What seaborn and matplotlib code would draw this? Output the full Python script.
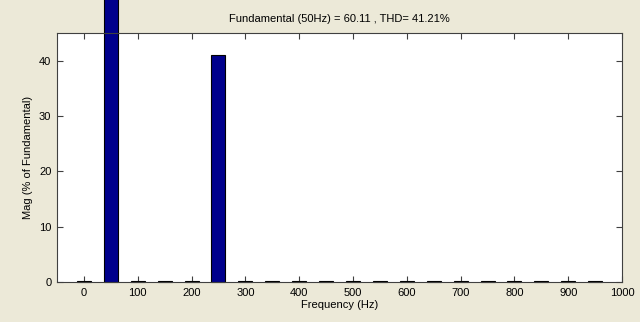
import numpy as np
import pandas as pd
import matplotlib
matplotlib.use('Agg')
import matplotlib.pyplot as plt
import seaborn as sns

# harmonic spectrum
freqs = [0, 50, 100, 150, 200, 250, 300, 350, 400, 450,
         500, 550, 600, 650, 700, 750, 800, 850, 900, 950]
mags = [0.15, 100.0, 0.15, 0.15, 0.15, 41.0, 0.15, 0.15, 0.15, 0.15,
        0.15, 0.15, 0.15, 0.15, 0.15, 0.15, 0.15, 0.15, 0.15, 0.15]
title = 'Fundamental (50Hz) = 60.11 , THD= 41.21%'

df = pd.DataFrame({'Frequency': freqs, 'Mag': mags})

sns.set_style('ticks')
plt.rcParams['font.family'] = ['Liberation Sans', 'DejaVu Sans']
plt.rcParams['text.color'] = 'black'
plt.rcParams['axes.labelcolor'] = 'black'
plt.rcParams['xtick.labelcolor'] = 'black'
plt.rcParams['ytick.labelcolor'] = 'black'

fig = plt.figure(figsize=(6.4, 3.22), dpi=100, facecolor='#ECE9D8')
ax = fig.add_axes([0.089, 0.124, 0.883, 0.774])
ax.set_facecolor('white')

sns.barplot(x='Frequency', y='Mag', data=df, native_scale=True, width=0.52,
            color='#00008C', saturation=1, edgecolor='black', linewidth=0.8,
            ax=ax)
for p in ax.patches:
    p.set_clip_on(False)

ax.set_xlim(-50, 1000)
ax.set_ylim(0, 45)
ax.set_xticks(range(0, 1001, 100))
ax.set_yticks([0, 10, 20, 30, 40])
ax.tick_params(direction='in', top=True, right=True, labelsize=8, length=4,
               color='#404040', pad=4)
for s in ax.spines.values():
    s.set_color('#404040')
    s.set_linewidth(0.8)

ax.set_title(title, fontsize=8, pad=8)
ax.set_xlabel('Frequency (Hz)', fontsize=8, labelpad=2)
ax.set_ylabel('Mag (% of Fundamental)', fontsize=8, labelpad=4)

fig.savefig('out.png', dpi=100, facecolor=fig.get_facecolor())
